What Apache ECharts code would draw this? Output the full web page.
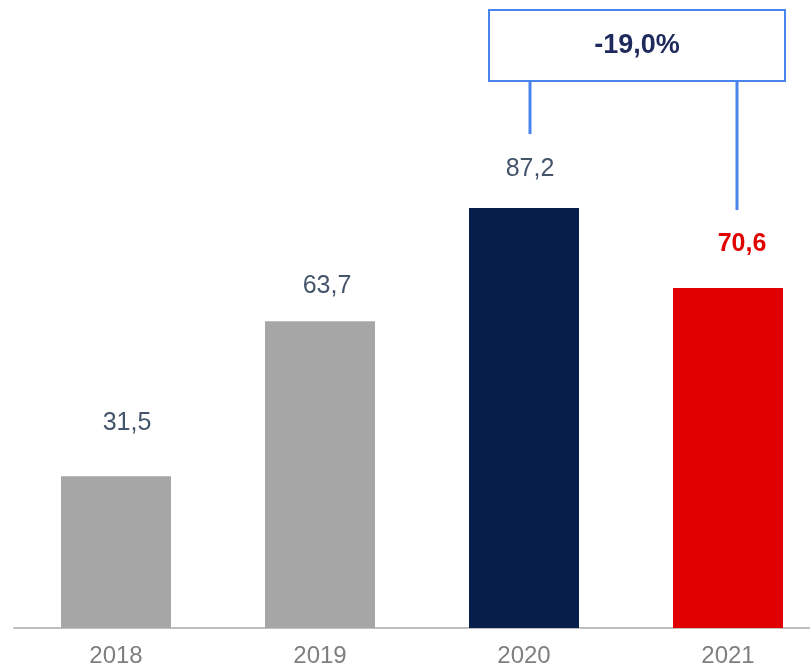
<!DOCTYPE html>
<html>
<head>
<meta charset="utf-8">
<script src="https://cdn.jsdelivr.net/npm/echarts@6/dist/echarts.min.js"></script>
<style>
  html, body { margin: 0; padding: 0; background: #fff; overflow: hidden; }
  #chart { width: 830px; height: 669px; }
</style>
</head>
<body>
<div id="chart"></div>
<script>
var years = ['2018', '2019', '2020', '2021'];
var values = [31.5, 63.7, 87.2, 70.6];
var barColors = ['#a6a6a6', '#a6a6a6', '#081e4a', '#e10000'];
var changeText = '-19,0%';
// small per-bar nudges of the value labels, as in the original slide
var labelShift = [[11, -11], [7, 7], [6, 4], [14, -1]];

function fmt(v) {
  return v.toFixed(1).replace('.', ',');
}

var chart = echarts.init(document.getElementById('chart'));

var barData = values.map(function (v, i) {
  var item = { value: v, itemStyle: { color: barColors[i] }, label: { offset: labelShift[i] } };
  if (i === values.length - 1) {
    item.label.color = '#e10000';
    item.label.fontWeight = 'bold';
  }
  return item;
});

var option = {
  animation: false,
  grid: { left: 14, right: 0, top: 2, bottom: 41 },
  xAxis: {
    type: 'category',
    data: years,
    axisLine: { lineStyle: { color: '#bfbfbf', width: 2 } },
    axisTick: { show: false },
    axisLabel: { color: '#7f7f7f', fontSize: 24, fontFamily: 'Liberation Sans', margin: 16 }
  },
  yAxis: {
    type: 'value',
    min: 0,
    max: 130,
    show: false,
    splitLine: { show: false }
  },
  series: [{
    type: 'bar',
    data: barData,
    barWidth: 110,
    label: {
      show: true,
      position: 'top',
      distance: 30,
      color: '#44546a',
      fontSize: 25,
      fontFamily: 'Liberation Sans',
      formatter: function (p) { return fmt(p.value); }
    }
  }]
};
chart.setOption(option);

// annotation box with bracket lines
var p20 = chart.convertToPixel({ xAxisIndex: 0, yAxisIndex: 0 }, [2, values[2]]);
var p21 = chart.convertToPixel({ xAxisIndex: 0, yAxisIndex: 0 }, [3, values[3]]);
var lx = p20[0] + 6, rx = p21[0] + 9;
var boxTop = 10, boxBottom = 81;
var lineColor = '#4a84ee';

chart.setOption({
  graphic: [
    {
      type: 'rect',
      shape: { x: 489, y: boxTop, width: 296, height: boxBottom - boxTop },
      style: { fill: '#fff', stroke: lineColor, lineWidth: 2 }
    },
    {
      type: 'text',
      x: 637, y: (boxTop + boxBottom) / 2,
      style: {
        text: changeText, fill: '#1f2a5c', fontSize: 27, fontWeight: 'bold',
        fontFamily: 'Liberation Sans', align: 'center', verticalAlign: 'middle'
      }
    },
    {
      type: 'line',
      shape: { x1: lx, y1: boxBottom, x2: lx, y2: p20[1] - 74 },
      style: { stroke: lineColor, lineWidth: 3 }
    },
    {
      type: 'line',
      shape: { x1: rx, y1: boxBottom, x2: rx, y2: p21[1] - 78 },
      style: { stroke: lineColor, lineWidth: 3 }
    }
  ]
});
</script>
</body>
</html>
